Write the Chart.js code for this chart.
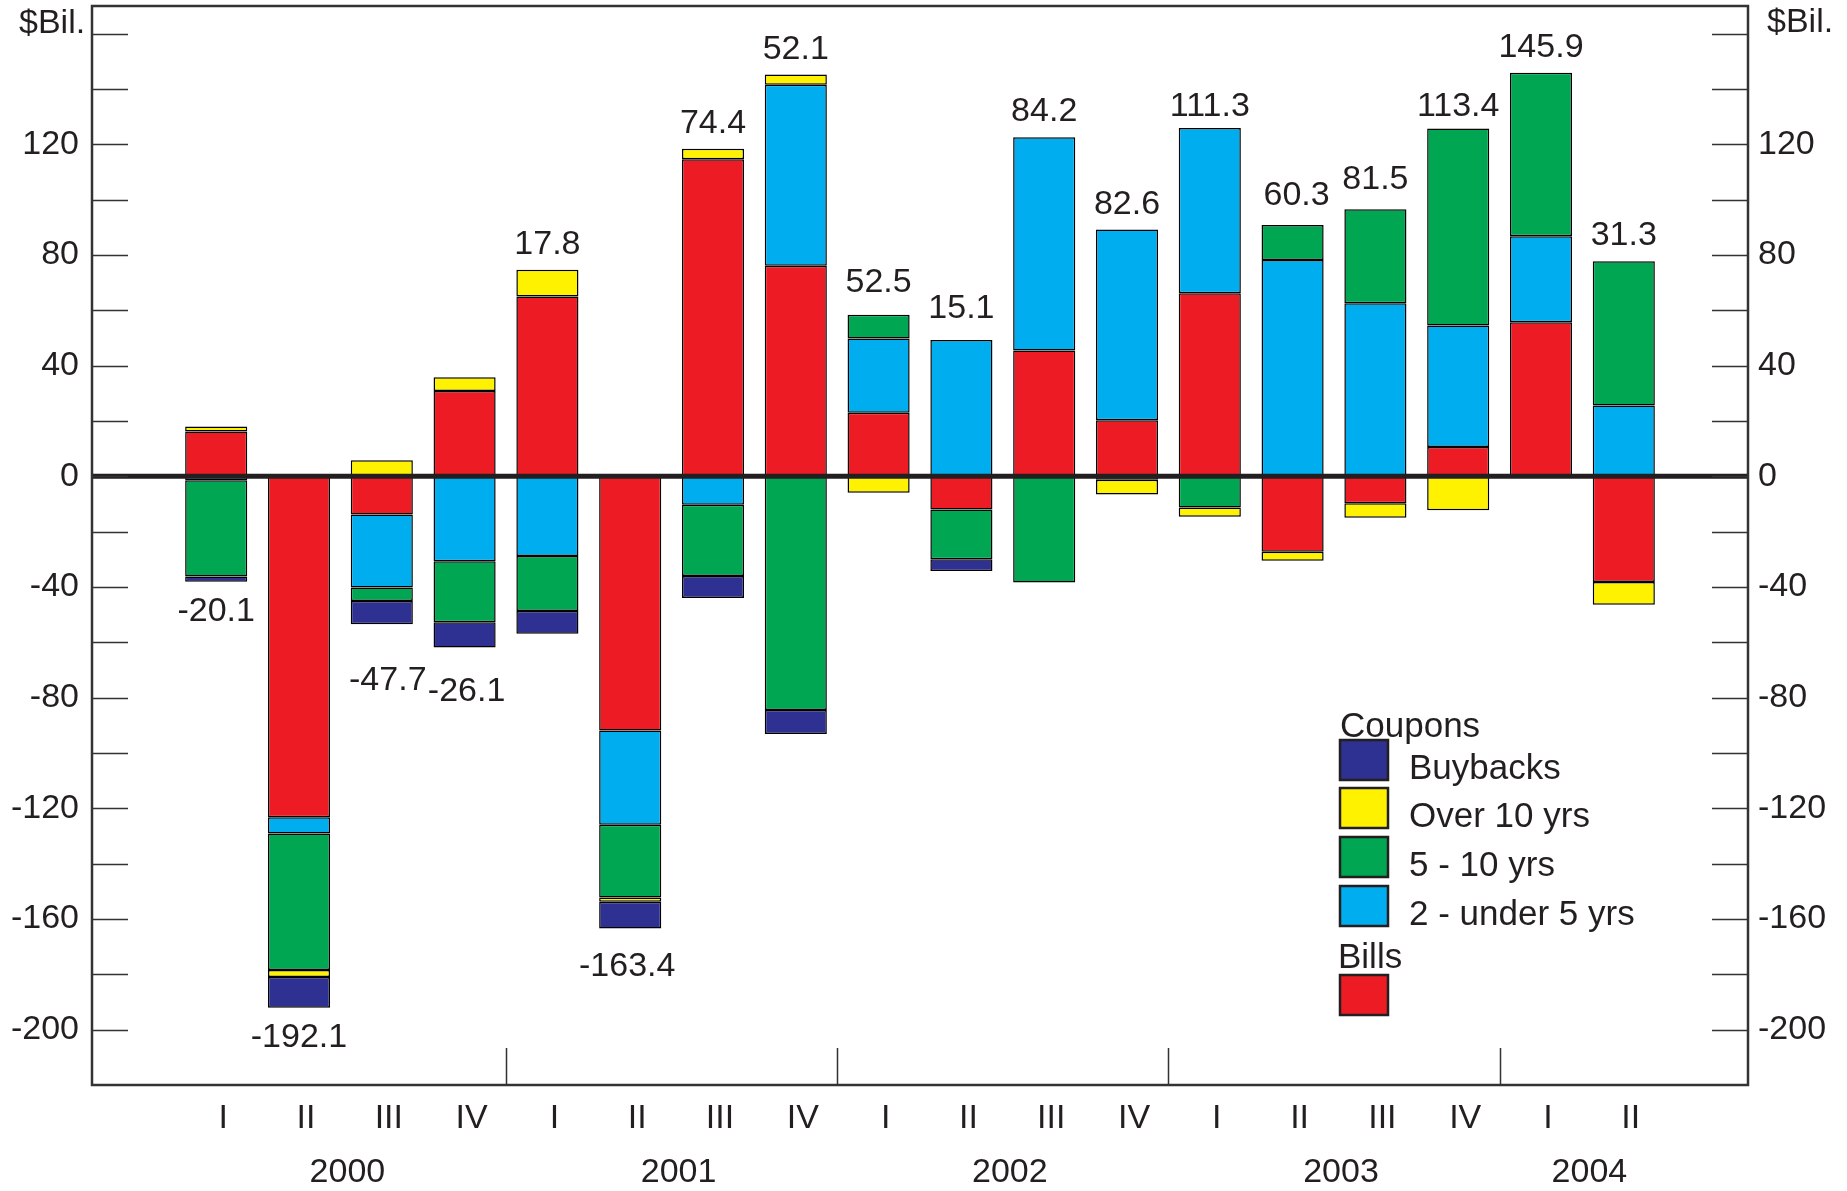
<!DOCTYPE html>
<html>
<head>
<meta charset="utf-8">
<script src="https://cdn.jsdelivr.net/npm/chart.js@4.4.1/dist/chart.umd.min.js"></script>
<style>
  html, body { margin: 0; padding: 0; background: #fff; }
  #wrap { position: relative; width: 1847px; height: 1191px; }
</style>
</head>
<body>
<div id="wrap"><canvas id="netIssuance" width="1847" height="1191"></canvas></div>
<script>
// quarters 2000 I .. 2004 II
var quarters = ["I", "II", "III", "IV", "I", "II", "III", "IV", "I", "II", "III", "IV", "I", "II", "III", "IV", "I", "II"];
var years = ["2000", "2001", "2002", "2003", "2004"];
var yearOfQuarter = [0, 0, 0, 0, 1, 1, 1, 1, 2, 2, 2, 2, 3, 3, 3, 3, 4, 4];

// $ billions, null where a series has nothing that quarter
var bills     = [16.2, -123.2, -13.8, 30.8, 65.0, -91.9, 114.6, 76.1, 23.0, -12.0, 45.5, 20.3, 66.2, -27.3, -9.7, 10.6, 55.7, -38.2];
var twoToFive = [-1.4, -5.9, -26.4, -30.7, -28.8, -34.0, -10.3, 65.4, 26.8, 49.3, 77.1, 68.9, 59.7, 78.2, 62.6, 43.9, 31.1, 25.6];
var fiveToTen = [-34.8, -49.3, -4.9, -22.0, -19.9, -26.3, -25.7, -84.5, 8.6, -18.0, -38.4, -1.2, -11.3, 12.6, 33.9, 71.2, 59.1, 52.1];
var overTen   = [1.8, -2.6, 5.8, 5.0, 9.7, -1.6, 3.8, 3.7, -5.9, null, null, -5.4, -3.3, -3.2, -5.3, -12.3, null, -8.2];
var buybacks  = [-1.9, -11.1, -8.4, -9.2, -8.2, -9.6, -8.0, -8.6, null, -4.2, null, null, null, null, null, null, null, null];

var yTickLabels = [-200, -160, -120, -80, -40, 0, 40, 80, 120];

var ink = "#231f20";
var fontFamily = '"Liberation Sans", Arial, Helvetica, sans-serif';
var colors = {
  bills: "#ed1c24",
  twoToFive: "#00aeef",
  fiveToTen: "#00a651",
  overTen: "#fff200",
  buybacks: "#2e3192"
};

var allSeries = [bills, twoToFive, fiveToTen, overTen, buybacks];

// small hand adjustments for a few total labels: [dx, dy] in px
var labelNudge = { 2: [6, 27], 3: [2, 14], 5: [-3, 9], 8: [0, -7], 9: [0, -6], 12: [0, 4], 13: [4, -4], 14: [0, -4], 15: [0, 3] };

function points(values) {
  return values.map(function (v, i) { return { x: i, y: v }; });
}

function barSet(label, values, color) {
  return {
    label: label,
    data: points(values),
    backgroundColor: color,
    borderColor: "#000",
    borderWidth: 1.5,
    borderSkipped: false,
    barPercentage: 0.75,
    categoryPercentage: 1
  };
}

var decor = {
  id: "decor",
  afterDatasetsDraw: function (chart) {
    var ctx = chart.ctx;
    var area = chart.chartArea;
    var xs = chart.scales.x;
    var ys = chart.scales.y;
    ctx.save();

    // heavy zero line across the plot
    var y0 = ys.getPixelForValue(0);
    ctx.strokeStyle = ink;
    ctx.lineWidth = 5;
    ctx.beginPath();
    ctx.moveTo(area.left, y0);
    ctx.lineTo(area.right, y0);
    ctx.stroke();

    // inward tick marks on both sides, every 20
    ctx.strokeStyle = "#333";
    ctx.lineWidth = 1.5;
    ctx.beginPath();
    for (var v = -200; v <= 160; v += 20) {
      var ty = Math.round(ys.getPixelForValue(v)) + 0.5;
      ctx.moveTo(area.left, ty);
      ctx.lineTo(area.left + 36, ty);
      ctx.moveTo(area.right - 36, ty);
      ctx.lineTo(area.right, ty);
    }
    ctx.stroke();

    // year separators at the bottom
    ctx.beginPath();
    for (var q = 1; q < quarters.length; q++) {
      if (yearOfQuarter[q] !== yearOfQuarter[q - 1]) {
        var sx = Math.round(xs.getPixelForValue(q - 0.5)) + 0.5;
        ctx.moveTo(sx, area.bottom - 37);
        ctx.lineTo(sx, area.bottom);
      }
    }
    ctx.stroke();

    // frame
    ctx.lineWidth = 2.5;
    ctx.strokeRect(area.left, area.top, area.right - area.left, area.bottom - area.top);

    ctx.fillStyle = ink;
    ctx.font = "34px " + fontFamily;

    // year labels under the quarters
    ctx.textAlign = "center";
    ctx.textBaseline = "middle";
    years.forEach(function (yr, k) {
      var idx = [];
      yearOfQuarter.forEach(function (g, i) { if (g === k) idx.push(i); });
      var mid = (idx[0] + idx[idx.length - 1]) / 2;
      ctx.fillText(yr, xs.getPixelForValue(mid) + 7, 1173);
    });

    // unit captions
    ctx.textBaseline = "alphabetic";
    ctx.textAlign = "left";
    ctx.fillText("$Bil.", 19, 33);
    ctx.fillText("$Bil.", 1767, 32);

    // net totals above / below each bar
    ctx.textAlign = "center";
    for (var i = 0; i < quarters.length; i++) {
      var pos = 0, neg = 0;
      allSeries.forEach(function (s) {
        var val = s[i];
        if (val === null) return;
        if (val >= 0) pos += val; else neg += val;
      });
      var total = Math.round((pos + neg) * 10) / 10;
      var nudge = labelNudge[i] || [0, 0];
      var lx = xs.getPixelForValue(i) + nudge[0];
      var ly;
      if (total >= 0) {
        ly = ys.getPixelForValue(pos) - 16;
      } else {
        ly = ys.getPixelForValue(neg) + 15 + 24;
      }
      ctx.fillText(total.toFixed(1), lx, ly + nudge[1]);
    }

    // legend
    ctx.textAlign = "left";
    ctx.font = "35px " + fontFamily;
    ctx.fillText("Coupons", 1340, 737);
    var items = [
      { text: "Buybacks", color: colors.buybacks, top: 740 },
      { text: "Over 10 yrs", color: colors.overTen, top: 788 },
      { text: "5 - 10 yrs", color: colors.fiveToTen, top: 837 },
      { text: "2 - under 5 yrs", color: colors.twoToFive, top: 886 }
    ];
    ctx.lineWidth = 2.5;
    ctx.strokeStyle = ink;
    items.forEach(function (it) {
      ctx.fillStyle = it.color;
      ctx.fillRect(1340, it.top, 48, 40);
      ctx.strokeRect(1340, it.top, 48, 40);
      ctx.fillStyle = ink;
      ctx.fillText(it.text, 1409, it.top + 39);
    });
    ctx.fillText("Bills", 1338, 968);
    ctx.fillStyle = colors.bills;
    ctx.fillRect(1340, 975, 48, 40);
    ctx.strokeRect(1340, 975, 48, 40);

    ctx.restore();
  }
};

function yAxis(position, width, pad) {
  return {
    position: position,
    stacked: true,
    min: -220,
    max: 170,
    grid: { display: false, drawTicks: false },
    border: { display: false },
    afterBuildTicks: function (axis) {
      axis.ticks = yTickLabels.map(function (v) { return { value: v }; });
    },
    afterFit: function (axis) {
      axis.width = width;
      axis.paddingTop = 0;
      axis.paddingBottom = 0;
    },
    ticks: {
      autoSkip: false,
      padding: pad,
      color: ink,
      font: { family: fontFamily, size: 34 }
    }
  };
}

var ctx1 = document.getElementById("netIssuance").getContext("2d");
var netIssuance = new Chart(ctx1, {
  type: "bar",
  data: {
    datasets: [
      barSet("Bills", bills, colors.bills),
      barSet("2 - under 5 yrs", twoToFive, colors.twoToFive),
      barSet("5 - 10 yrs", fiveToTen, colors.fiveToTen),
      barSet("Over 10 yrs", overTen, colors.overTen),
      barSet("Buybacks", buybacks, colors.buybacks)
    ]
  },
  options: {
    responsive: false,
    animation: false,
    layout: { padding: { top: 6 } },
    plugins: {
      legend: { display: false },
      tooltip: { enabled: false }
    },
    scales: {
      x: {
        type: "linear",
        stacked: true,
        offset: false,
        min: -1.5,
        max: 18.5,
        grid: { display: false, drawTicks: false },
        border: { display: false },
        afterBuildTicks: function (axis) {
          axis.ticks = quarters.map(function (q, i) { return { value: i }; });
        },
        afterFit: function (axis) {
          axis.height = 106;
          axis.paddingLeft = 0;
          axis.paddingRight = 0;
        },
        ticks: {
          autoSkip: false,
          maxRotation: 0,
          padding: 13,
          labelOffset: 7,
          color: ink,
          font: { family: fontFamily, size: 34 },
          callback: function (value) { return quarters[value]; }
        }
      },
      y: yAxis("left", 92, 13),
      y2: yAxis("right", 99, 10)
    }
  },
  plugins: [decor]
});
</script>
</body>
</html>
